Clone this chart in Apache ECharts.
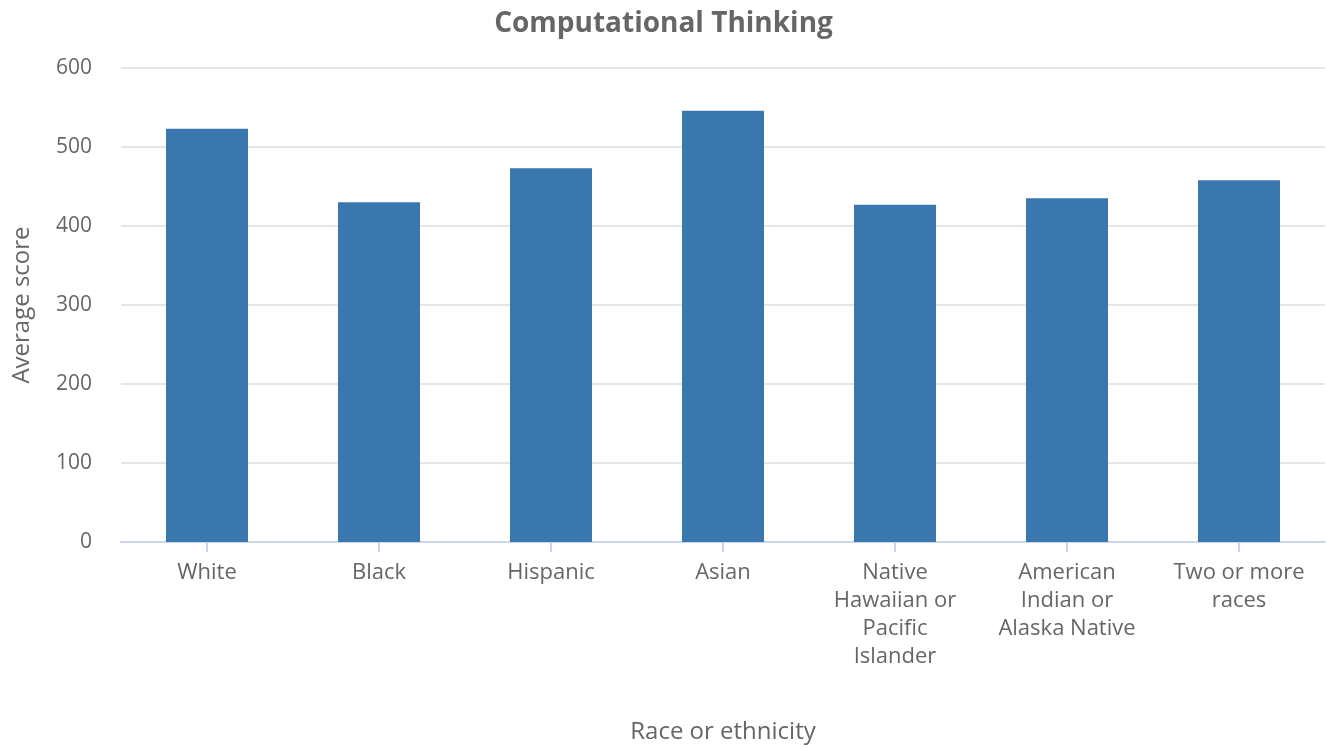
<!DOCTYPE html>
<html>
<head>
<meta charset="utf-8">
<script src="https://cdn.jsdelivr.net/npm/echarts@6/dist/echarts.min.js"></script>
<style>
html,body{margin:0;padding:0;background:#fff;}
#chart{width:1327px;height:749px;}
</style>
</head>
<body>
<div id="chart"></div>
<script>
const categories = ["White", "Black", "Hispanic", "Asian", "Native Hawaiian or Pacific Islander", "American Indian or Alaska Native", "Two or more races"];
const tickLabels = ["White", "Black", "Hispanic", "Asian", "Native\nHawaiian or\nPacific\nIslander", "American\nIndian or\nAlaska Native", "Two or more\nraces"];
const scores = [523, 430, 473, 546, 427, 435, 458];
const yTicks = [0, 100, 200, 300, 400, 500, 600];

const chart = echarts.init(document.getElementById('chart'));
const font = '"Open Sans", "Noto Sans", sans-serif';
chart.setOption({
  animation: false,
  textStyle: { fontFamily: font },
  title: {
    text: 'Computational Thinking',
    left: 'center',
    top: 5,
    textStyle: { fontFamily: font, fontSize: 28, fontWeight: 'bold', color: '#666666' }
  },
  grid: { left: 121, right: 2, top: 68, bottom: 205, containLabel: false },
  xAxis: {
    type: 'category',
    data: categories,
    name: 'Race or ethnicity',
    nameLocation: 'middle',
    nameGap: 178,
    nameTextStyle: { fontFamily: font, fontSize: 24, color: '#666666' },
    axisLine: { lineStyle: { color: '#ccd6eb', width: 2 } },
    axisTick: { show: true, alignWithLabel: true, length: 10, lineStyle: { color: '#ccd6eb', width: 2 } },
    axisLabel: {
      margin: 17,
      fontFamily: font,
      fontSize: 22,
      lineHeight: 28,
      color: '#666666',
      interval: 0,
      formatter: (v, i) => tickLabels[i]
    }
  },
  yAxis: {
    type: 'value',
    min: yTicks[0],
    max: yTicks[yTicks.length - 1],
    interval: 100,
    name: 'Average score',
    nameLocation: 'middle',
    nameGap: 87,
    nameTextStyle: { fontFamily: font, fontSize: 24, color: '#666666' },
    axisLine: { show: false },
    axisTick: { show: false },
    splitLine: { lineStyle: { color: '#e6e6e6', width: 2 } },
    axisLabel: { margin: 29, fontFamily: font, fontSize: 21, color: '#666666' }
  },
  series: [{
    type: 'bar',
    data: scores,
    barWidth: 82,
    itemStyle: { color: '#3a77af' }
  }]
});
</script>
</body>
</html>
